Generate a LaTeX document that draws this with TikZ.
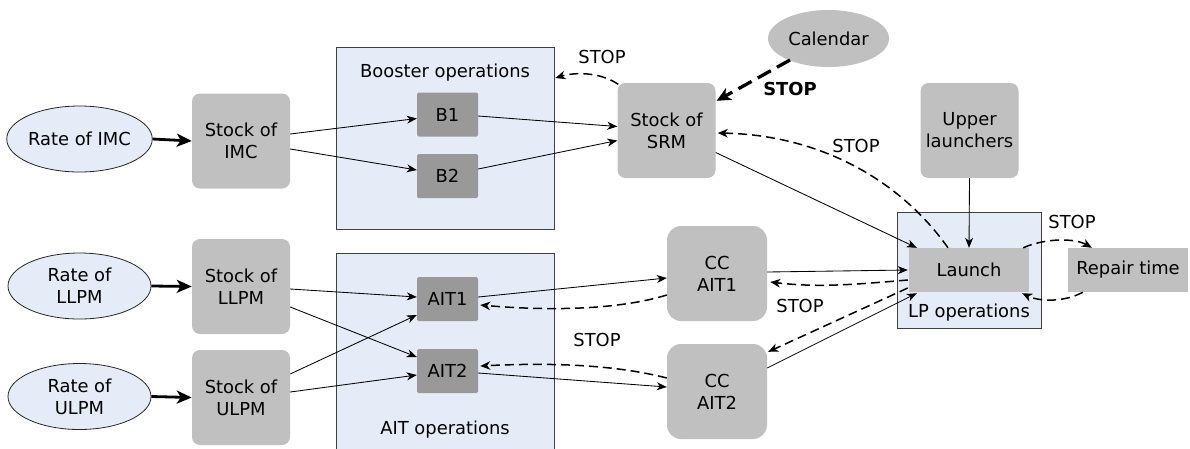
\documentclass[tikz,border=0pt]{standalone}
\usepackage{fontspec}
\setmainfont{DejaVu Sans}
\usetikzlibrary{shapes.geometric,arrows.meta,calc}
\definecolor{lb}{HTML}{E6ECF7}
\definecolor{gA}{HTML}{C0C0C0}
\definecolor{gB}{HTML}{999999}
\begin{document}
\begin{tikzpicture}[x=1pt,y=-1pt,
  every node/.style={font=\fontsize{17.9}{22}\selectfont, align=center, inner sep=0pt},
  rate/.style={ellipse, draw=black!85, line width=0.8pt, fill=lb, minimum width=143pt, minimum height=66pt},
  stockbox/.style={rectangle, rounded corners=8pt, fill=gA, minimum width=98pt, minimum height=95pt},
  ccbox/.style={rectangle, rounded corners=14pt, fill=gA, minimum width=100pt, minimum height=95pt},
  opbox/.style={rectangle, rounded corners=1.5pt, fill=gB, minimum width=61pt, minimum height=44pt},
  flatbox/.style={rectangle, fill=gA, minimum width=120pt, minimum height=44pt},
  grpbox/.style={rectangle, draw=black!75, line width=0.8pt, fill=lb},
  lbl/.style={},
  thin/.style={line width=0.85pt, -{Stealth[length=10pt,width=8pt,inset=3pt]}},
  thick/.style={line width=2.8pt, -{Stealth[length=15pt,width=13pt,inset=4pt]}},
  dsh/.style={line width=1.5pt, dash pattern=on 9pt off 5pt, -{Stealth[length=10pt,width=8.5pt,inset=3pt]}},
  dshthick/.style={line width=3.3pt, dash pattern=on 15pt off 7pt, -{Stealth[length=14pt,width=13pt,inset=4pt]}}
]
\useasboundingbox (0,0) rectangle (1190,448);

% group boxes
\node[grpbox, minimum width=218pt, minimum height=182pt] (boost) at (445,138) {};
\node[grpbox, minimum width=218pt, minimum height=202pt] (ait) at (445,354) {};
\node[grpbox, minimum width=144pt, minimum height=116pt] (lp) at (969,270) {};
\node[lbl] (boostlbl) at (445,73) {Booster operations};
\node[lbl] (aitlbl) at (445,430) {AIT operations};
\node[lbl] (lplbl) at (969,313) {LP operations};

% nodes
\node[rate] (rIMC) at (79.5,139) {Rate of IMC};
\node[rate] (rLLPM) at (79.5,286) {Rate of\\LLPM};
\node[rate] (rULPM) at (79.5,396.5) {Rate of\\ULPM};
\node[stockbox] (sIMC) at (241,141) {Stock of\\IMC};
\node[stockbox] (sLLPM) at (241,286.5) {Stock of\\LLPM};
\node[stockbox] (sULPM) at (241,397.5) {Stock of\\ULPM};
\node[opbox] (B1) at (447.5,114.5) {B1};
\node[opbox] (B2) at (447.5,176) {B2};
\node[opbox] (AIT1) at (447.5,299) {AIT1};
\node[opbox] (AIT2) at (447.5,371) {AIT2};
\node[stockbox] (SRM) at (666.5,130.5) {Stock of\\SRM};
\node[ellipse, fill=gA, minimum width=121pt, minimum height=57pt] (cal) at (828.5,38.5) {Calendar};
\node[stockbox] (upper) at (969.5,130.5) {Upper\\launchers};
\node[ccbox] (CC1) at (717,273.5) {CC\\AIT1};
\node[ccbox] (CC2) at (717,391.5) {CC\\AIT2};
\node[flatbox] (launch) at (969,270) {Launch};
\node[flatbox] (repair) at (1128,270) {Repair time};

% STOP labels
\node[lbl] (stop1) at (602,57) {STOP};
\node[lbl, font=\fontsize{17.9}{22}\selectfont\bfseries] (stop2) at (790,89) {STOP};
\node[lbl] (stop3) at (856,146) {STOP};
\node[lbl] (stop4) at (1072,222) {STOP};
\node[lbl] (stop5) at (597,340) {STOP};
\node[lbl] (stop6) at (800,306) {STOP};

% thick inflows
\draw[thick] (rIMC.east) -- (sIMC.west);
\draw[thick] (rLLPM.east) -- (sLLPM.west);
\draw[thick] (rULPM.east) -- (sULPM.west);

% booster flows
\draw[thin] ($(sIMC.east)+(0,-7)$) -- ($(B1.west)+(0,4)$);
\draw[thin] ($(sIMC.east)+(0,8)$) -- ($(B2.west)+(0,-6)$);
\draw[thin] ($(B1.east)+(0,1.5)$) -- ($(SRM.west)+(0,-4)$);
\draw[thin] ($(B2.east)+(0,-7)$) -- ($(SRM.west)+(0,10)$);
\draw[thin] ($(SRM.east)+(0,22)$) -- ($(launch.north west)+(8,0)$);
\draw[thin] (upper.south) -- (launch.north);

% calendar
\draw[dshthick] ($(cal.center)+(-38.5,21.5)$) -- ($(SRM.north east)+(1,18)$);

% SRM stop booster
\draw[dsh] ($(SRM.north west)+(1,1.5)$) .. controls (600,72) and (575,72) .. ($(boost.east)+(1,-60)$);
% launch stop SRM
\draw[dsh] ($(launch.north)+(-21,0)$) .. controls (900,180) and (820,135) .. ($(SRM.east)+(2,2.5)$);
% launch <-> repair
\draw[dsh] ($(launch.north east)+(-6,0)$) .. controls (1045,238) and (1075,238) .. ($(repair.north west)+(24,0)$);
\draw[dsh] ($(repair.south west)+(15,0)$) .. controls (1065,302) and (1040,302) .. ($(launch.south east)+(-7,1)$);

% AIT flows
\draw[thin] ($(sLLPM.east)+(0,2.5)$) -- ($(AIT1.west)+(0,-2)$);
\draw[thin] ($(sLLPM.east)+(0,20.5)$) -- ($(AIT2.west)+(0,-14)$);
\draw[thin] ($(sULPM.east)+(0,-23.5)$) -- ($(AIT1.west)+(0,16)$);
\draw[thin] ($(sULPM.east)+(0,-5.5)$) -- ($(AIT2.west)+(0,4)$);
\draw[thin] ($(AIT1.east)+(0,-2)$) -- ($(CC1.west)+(0,4.5)$);
\draw[dsh] ($(CC1.west)+(0,21.5)$) .. controls (625,308) and (560,312) .. ($(AIT1.east)+(2,6)$);
\draw[thin] ($(AIT2.east)+(0,2)$) -- ($(CC2.west)+(0,-4.5)$);
\draw[dsh] ($(CC2.west)+(0,-13.5)$) .. controls (620,366) and (560,362) .. ($(AIT2.east)+(2,-5)$);

% CC <-> launch
\draw[thin] ($(CC1.east)+(0,-1.5)$) -- ($(launch.west)+(-1,0)$);
\draw[dsh] ($(launch.west)+(-1,10)$) .. controls (860,284) and (820,288) .. ($(CC1.east)+(3,8.5)$);
\draw[dsh] ($(launch.west)+(-1,18)$) -- ($(CC2.north east)+(1,8)$);
\draw[thin] ($(CC2.east)+(0,-23.5)$) -- ($(launch.south west)+(8,1)$);
\end{tikzpicture}
\end{document}
